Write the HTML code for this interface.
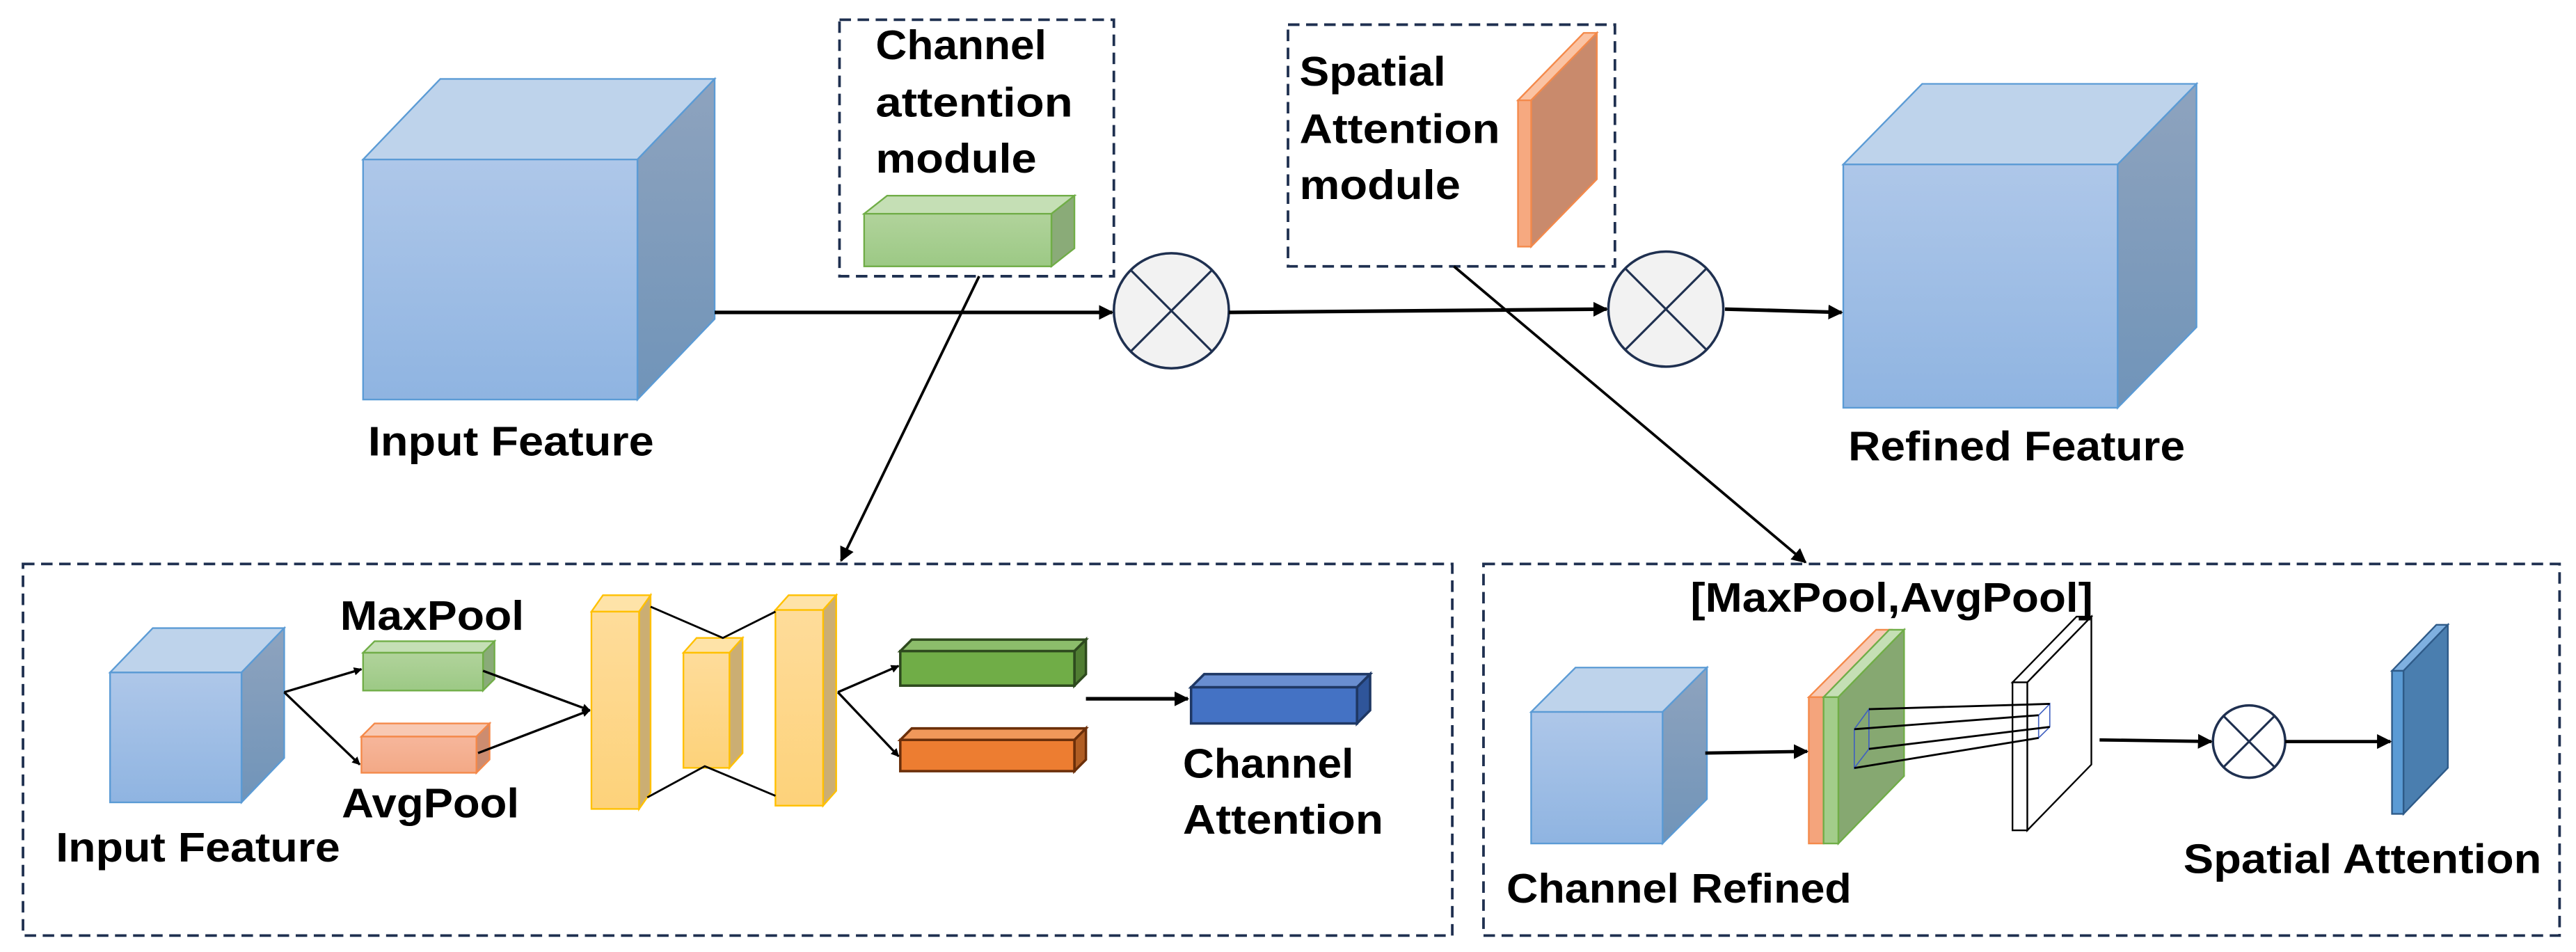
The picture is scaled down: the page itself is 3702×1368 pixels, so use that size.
<!DOCTYPE html>
<html><head><meta charset="utf-8"><style>
html,body{margin:0;padding:0;background:#fff;}
svg{display:block;}
text{font-family:"Liberation Sans",sans-serif;font-weight:bold;fill:#000;}
</style></head><body>
<svg width="3702" height="1368" viewBox="0 0 1568 579" preserveAspectRatio="none" xmlns="http://www.w3.org/2000/svg">
<defs>
<marker id="ah" viewBox="0 0 10 10" refX="9" refY="5" markerWidth="5" markerHeight="5" orient="auto" markerUnits="userSpaceOnUse">
<path d="M0,0 L10,5 L0,10 z" fill="#000"/></marker>
<marker id="ah2" viewBox="0 0 10 10" refX="9" refY="5" markerWidth="9" markerHeight="9" orient="auto" markerUnits="userSpaceOnUse">
<path d="M0,0 L10,5 L0,10 z" fill="#000"/></marker>
<linearGradient id="bf" x1="0" y1="0" x2="0" y2="1"><stop offset="0" stop-color="#aec7e9"/><stop offset="1" stop-color="#8fb4e1"/></linearGradient>
<linearGradient id="bs" x1="0" y1="0" x2="0" y2="1"><stop offset="0" stop-color="#8ea3be"/><stop offset="1" stop-color="#7094b9"/></linearGradient>
<linearGradient id="gf" x1="0" y1="0" x2="0" y2="1"><stop offset="0" stop-color="#b1d39b"/><stop offset="1" stop-color="#9cc985"/></linearGradient>
<linearGradient id="of" x1="0" y1="0" x2="0" y2="1"><stop offset="0" stop-color="#f6b69b"/><stop offset="1" stop-color="#f3a986"/></linearGradient>
<linearGradient id="yf" x1="0" y1="0" x2="0" y2="1"><stop offset="0" stop-color="#fedc9a"/><stop offset="1" stop-color="#fdd27a"/></linearGradient>
</defs>

<g stroke="#5b9bd5" stroke-width="1">
<!-- big input cube -->
<polygon points="221,97 268,48 435,48 388,97" fill="#bed3eb"/>
<polygon points="388,97 435,48 435,194 388,243" fill="url(#bs)"/>
<rect x="221" y="97" width="167" height="146" fill="url(#bf)"/>
<!-- refined cube -->
<polygon points="1122,100 1170,51 1337,51 1289,100" fill="#bed3eb"/>
<polygon points="1289,100 1337,51 1337,199 1289,248" fill="url(#bs)"/>
<rect x="1122" y="100" width="167" height="148" fill="url(#bf)"/>
<!-- small input cube -->
<polygon points="67,409 93,382 173,382 147,409" fill="#bed3eb"/>
<polygon points="147,409 173,382 173,461 147,488" fill="url(#bs)"/>
<rect x="67" y="409" width="80" height="79" fill="url(#bf)"/>
<!-- channel refined cube -->
<polygon points="932,433 959,406 1039,406 1012,433" fill="#bed3eb"/>
<polygon points="1012,433 1039,406 1039,486 1012,513" fill="url(#bs)"/>
<rect x="932" y="433" width="80" height="80" fill="url(#bf)"/>
</g>

<!-- green module cube -->
<g stroke="#70ad47" stroke-width="1">
<polygon points="526,130 540,119 654,119 640,130" fill="#c5dfb5"/>
<polygon points="640,130 654,119 654,151 640,162" fill="#8aab78"/>
<rect x="526" y="130" width="114" height="32" fill="url(#gf)"/>
<!-- MaxPool -->
<polygon points="221,397 228,390 301,390 294,397" fill="#c5dfb5"/>
<polygon points="294,397 301,390 301,413 294,420" fill="#8aab78"/>
<rect x="221" y="397" width="73" height="23" fill="url(#gf)"/>
</g>
<!-- orange module slab -->
<g stroke="#f4894a" stroke-width="1">
<polygon points="924,61 964,20 972,20 932,61" fill="#fbc3a3"/>
<polygon points="932,61 972,20 972,109 932,150" fill="#c98a6c"/>
<rect x="924" y="61" width="8" height="89" fill="#f6a980"/>
<!-- AvgPool -->
<polygon points="220,448 228,440 298,440 290,448" fill="#f8c9b3"/>
<polygon points="290,448 298,440 298,462 290,470" fill="#cc8c70"/>
<rect x="220" y="448" width="70" height="22" fill="url(#of)"/>
</g>

<!-- yellow bars -->
<g stroke="#ffc000" stroke-width="1">
<polygon points="360,372 367,362 396,362 389,372" fill="#fee3a8"/>
<polygon points="389,372 396,362 396,482 389,492" fill="#cbae73"/>
<rect x="360" y="372" width="29" height="120" fill="url(#yf)"/>
<polygon points="416,397 424,388 452,388 444,397" fill="#fee3a8"/>
<polygon points="444,397 452,388 452,458 444,467" fill="#cbae73"/>
<rect x="416" y="397" width="28" height="70" fill="url(#yf)"/>
<polygon points="472,371 480,362 509,362 501,371" fill="#fee3a8"/>
<polygon points="501,371 509,362 509,481 501,490" fill="#cbae73"/>
<rect x="472" y="371" width="29" height="119" fill="url(#yf)"/>
</g>

<!-- dark green / orange / blue cubes -->
<g stroke="#2e4a1e" stroke-width="1.5">
<polygon points="548,396 555,389 661,389 654,396" fill="#8cbd6b"/>
<polygon points="654,396 661,389 661,410 654,417" fill="#507d32"/>
<rect x="548" y="396" width="106" height="21" fill="#70ad47"/>
</g>
<g stroke="#6b2f0a" stroke-width="1.5">
<polygon points="548,450 555,443 661,443 654,450" fill="#f0985a"/>
<polygon points="654,450 661,443 661,462 654,469" fill="#b05d23"/>
<rect x="548" y="450" width="106" height="19" fill="#ed7d31"/>
</g>
<g stroke="#1f3864" stroke-width="1.5">
<polygon points="725,418 733,410 834,410 826,418" fill="#698ed0"/>
<polygon points="826,418 834,410 834,432 826,440" fill="#2f559a"/>
<rect x="725" y="418" width="101" height="22" fill="#4472c4"/>
</g>

<!-- stacked slabs -->
<g stroke-width="1">
<polygon points="1101,424 1142,383 1151,383 1110,424" fill="#f8c9b3" stroke="#f4894a"/>
<rect x="1101" y="424" width="9" height="89" fill="#f4a47c" stroke="#f4894a"/>
<polygon points="1110,424 1150,383 1159,383 1119,424" fill="#c5dfb5" stroke="#70ad47"/>
<polygon points="1119,424 1159,383 1159,472 1119,513" fill="#86a871" stroke="#70ad47"/>
<rect x="1110" y="424" width="9" height="89" fill="#a3cd8a" stroke="#70ad47"/>
<polygon points="1225,415 1264,375 1273,375 1234,415" fill="#fff" stroke="#000"/>
<polygon points="1234,415 1273,375 1273,465 1234,505" fill="#fff" stroke="#000"/>
<rect x="1225" y="415" width="9" height="90" fill="#fff" stroke="#000"/>
<!-- blue slab -->
<polygon points="1456,408 1483,380 1490,380 1463,408" fill="#7fb0e0" stroke="#2e5a88"/>
<polygon points="1463,408 1490,380 1490,467 1463,495" fill="#4a7eaf" stroke="#2e5a88"/>
<rect x="1456" y="408" width="7" height="87" fill="#5b9bd5" stroke="#2e5a88"/>
</g>
<!-- projection lines -->
<g stroke="#4060c0" stroke-width="0.7" fill="none">
<polygon points="1128.7,443.5 1137.6,431.3 1137.6,455.5 1128.7,467.1"/>
<polygon points="1240.9,435 1247.7,428.1 1247.7,442.1 1240.9,448.8"/>
</g>
<g stroke="#000" stroke-width="1.2">
<line x1="1137.6" y1="431.3" x2="1247.7" y2="428.1"/>
<line x1="1128.7" y1="443.5" x2="1240.9" y2="435"/>
<line x1="1137.6" y1="455.5" x2="1247.7" y2="442.1"/>
<line x1="1128.7" y1="467.1" x2="1240.9" y2="448.8"/>
</g>

<!-- dashed boxes -->
<g fill="none" stroke="#1f3050" stroke-width="1.6" stroke-dasharray="7,4">
<rect x="511" y="12" width="167" height="156"/>
<rect x="784" y="15" width="199" height="147"/>
<rect x="14" y="343" width="870" height="226"/>
<rect x="903" y="343" width="655" height="226"/>
</g>

<!-- circles -->
<g fill="#f2f2f2" stroke="#1f3050" stroke-width="1.5">
<circle cx="713" cy="189" r="35"/>
<circle cx="1014" cy="188" r="35"/>
<circle cx="1369" cy="451" r="22" fill="#fff"/>
</g>
<g stroke="#1f3050" stroke-width="1.3">
<line x1="688" y1="164" x2="738" y2="214"/><line x1="738" y1="164" x2="688" y2="214"/>
<line x1="989" y1="163" x2="1039" y2="213"/><line x1="1039" y1="163" x2="989" y2="213"/>
<line x1="1353" y1="435" x2="1385" y2="467"/><line x1="1385" y1="435" x2="1353" y2="467"/>
</g>

<!-- connectors -->
<g stroke="#000" fill="none">
<line x1="435" y1="190" x2="677" y2="190" stroke-width="2.2" marker-end="url(#ah2)"/>
<line x1="748" y1="190" x2="978" y2="188" stroke-width="2.2" marker-end="url(#ah2)"/>
<line x1="1050" y1="188" x2="1121" y2="190" stroke-width="2.2" marker-end="url(#ah2)"/>
<line x1="596" y1="168" x2="512" y2="341" stroke-width="1.6" marker-end="url(#ah2)"/>
<line x1="885" y1="162" x2="1099" y2="342" stroke-width="1.6" marker-end="url(#ah2)"/>
<line x1="173" y1="421" x2="220" y2="407" stroke-width="1.4" marker-end="url(#ah)"/>
<line x1="173" y1="421" x2="219" y2="465" stroke-width="1.4" marker-end="url(#ah)"/>
<line x1="294" y1="408" x2="359" y2="432" stroke-width="1.4" marker-end="url(#ah)"/>
<line x1="291" y1="458" x2="359" y2="432" stroke-width="1.4" marker-end="url(#ah)"/>
<polyline points="396,369 440,388 472,372" stroke-width="1.2"/>
<polyline points="394,485 429,466 472,484" stroke-width="1.2"/>
<line x1="510" y1="421" x2="547" y2="405" stroke-width="1.4" marker-end="url(#ah)"/>
<line x1="510" y1="421" x2="547" y2="460" stroke-width="1.4" marker-end="url(#ah)"/>
<line x1="661" y1="425" x2="723" y2="425" stroke-width="2.2" marker-end="url(#ah2)"/>
<line x1="1038" y1="458" x2="1100" y2="457" stroke-width="2" marker-end="url(#ah2)"/>
<line x1="1278" y1="450" x2="1346" y2="451" stroke-width="2" marker-end="url(#ah2)"/>
<line x1="1391" y1="451" x2="1455" y2="451" stroke-width="2" marker-end="url(#ah2)"/>
</g>

<!-- labels -->
<g font-size="25">
<text x="224" y="277" textLength="174" lengthAdjust="spacingAndGlyphs">Input Feature</text>
<text x="533" y="36" textLength="104" lengthAdjust="spacingAndGlyphs">Channel</text>
<text x="533" y="71" textLength="120" lengthAdjust="spacingAndGlyphs">attention</text>
<text x="533" y="105" textLength="98" lengthAdjust="spacingAndGlyphs">module</text>
<text x="791" y="52" textLength="89" lengthAdjust="spacingAndGlyphs">Spatial</text>
<text x="791" y="87" textLength="122" lengthAdjust="spacingAndGlyphs">Attention</text>
<text x="791" y="121" textLength="98" lengthAdjust="spacingAndGlyphs">module</text>
<text x="1125" y="280" textLength="205" lengthAdjust="spacingAndGlyphs">Refined Feature</text>
<text x="207" y="383" textLength="112" lengthAdjust="spacingAndGlyphs">MaxPool</text>
<text x="208" y="497" textLength="108" lengthAdjust="spacingAndGlyphs">AvgPool</text>
<text x="34" y="524" textLength="173" lengthAdjust="spacingAndGlyphs">Input Feature</text>
<text x="720" y="473" textLength="104" lengthAdjust="spacingAndGlyphs">Channel</text>
<text x="720" y="507" textLength="122" lengthAdjust="spacingAndGlyphs">Attention</text>
<text x="1029" y="372" textLength="245" lengthAdjust="spacingAndGlyphs">[MaxPool,AvgPool]</text>
<text x="917" y="549" textLength="210" lengthAdjust="spacingAndGlyphs">Channel Refined</text>
<text x="1329" y="531" textLength="218" lengthAdjust="spacingAndGlyphs">Spatial Attention</text>
</g>
</svg>
</body></html>
